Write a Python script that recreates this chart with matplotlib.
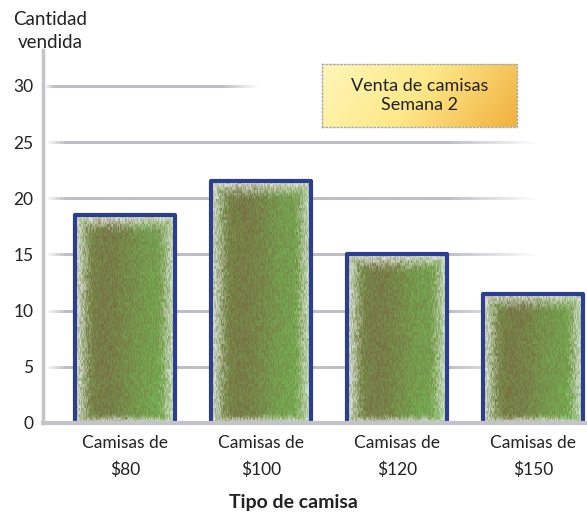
import numpy as np
import matplotlib.pyplot as plt
from matplotlib.collections import LineCollection
from matplotlib.colors import LinearSegmentedColormap

categorias = ['Camisas de\n$80', 'Camisas de\n$100', 'Camisas de\n$120', 'Camisas de\n$150']
ventas = [18.5, 21.5, 15, 11.5]
marcas_y = [0, 5, 10, 15, 20, 25, 30]
titulo = 'Venta de camisas\nSemana 2'
etiqueta_y = 'Cantidad\nvendida'
etiqueta_x = 'Tipo de camisa'

plt.rcParams['font.family'] = ['Lato', 'DejaVu Sans']


def ruido(nx, ny, k):
    """Ruido determinista con vetas verticales cortas."""
    ii = np.arange(nx)[None, :]
    jj = np.arange(ny)[:, None]
    h = np.sin(ii * 12.9898 + (jj // 3) * 78.233 + k * 3.17) * 43758.5453
    return h - np.floor(h)


def textura_barra(nx, ny, k):
    u = (np.arange(nx)[None, :] + 0.5) / nx
    v = (np.arange(ny)[:, None] + 0.5) / ny  # 0 abajo, 1 arriba
    cafe = np.array([0.47, 0.40, 0.26])
    verde = np.array([0.46, 0.69, 0.32])
    # banda cafe a la izquierda, mas verde a la derecha y abajo a la derecha
    w = 0.2 + 0.45 * np.exp(-((u - 0.3) / 0.3) ** 2) + 0.15 * v * (1 - u)
    w = w - 0.8 * np.clip((u - 0.45) * (0.4 - v), 0, 1)
    r = ruido(nx, ny, k)
    w = np.clip(w + 0.4 * (r - 0.5), 0, 1)
    img = cafe * w[..., None] + verde * (1 - w[..., None])
    # desvanecido blanco moteado en los bordes
    d = np.minimum(np.minimum(u * nx, (1 - u) * nx), (1 - v) * ny)
    d = np.minimum(d, v * ny * 2)
    borde = np.clip(d / 16 + 0.6 * (ruido(nx, ny, k + 7) - 0.5), 0, 1)
    blanco = (1 - borde)[..., None]
    img = img * (1 - 0.85 * blanco) + 0.93 * 0.85 * blanco
    return np.clip(img[::-1], 0, 1)


def linea_desvanecida(ax, y, x0, x1, n=120):
    xs = np.linspace(x0, x1, n + 1)
    segs = [[(xs[i], y), (xs[i + 1], y)] for i in range(n)]
    t = np.linspace(0, 1, n)
    a = np.clip(np.minimum(t / 0.04, (1 - t) / 0.18), 0, 1)
    gris = np.array([0.74, 0.74, 0.77])
    colores = [tuple(1 - (1 - gris) * ai) for ai in a]
    ax.add_collection(LineCollection(segs, colors=colores, linewidths=2,
                                     capstyle='projecting', zorder=1))


fig = plt.figure(figsize=(5.87, 5.18), dpi=100)
ax = fig.add_axes([0.0733, 0.1834, 0.9267, 0.72])
ax.set_xlim(-0.603, 3.397)
ax.set_ylim(0, 33.2)

# lineas de cuadricula
for y in marcas_y[1:]:
    fin = 1.0 if y == 30 else 3.05
    linea_desvanecida(ax, y, -0.59, fin)

ancho = 0.74
for i, val in enumerate(ventas):
    x0, x1 = i - ancho / 2, i + ancho / 2
    img = textura_barra(100, int(val * 11.2), i)
    ax.imshow(img, extent=(x0, x1, 0, val), aspect='auto', zorder=2,
              interpolation='nearest')
    ax.plot([x0, x0, x1, x1], [0, val, val, 0], color='#2b3e90', lw=3,
            solid_joinstyle='round', zorder=3)

ax.set_xticks(range(len(categorias)))
ax.set_xticklabels(categorias, fontsize=12.5, linespacing=1.75, color='#222222')
ax.set_yticks(marcas_y)
ax.set_yticklabels([str(m) for m in marcas_y], fontsize=12.5, color='#222222')
ax.tick_params(axis='x', length=0, pad=9)
ax.tick_params(axis='y', length=0, pad=7)

for lado in ['top', 'right']:
    ax.spines[lado].set_visible(False)
ax.spines['left'].set_color('#c4c4c8')
ax.spines['left'].set_linewidth(2.5)
ax.spines['bottom'].set_color('#c4c4c8')
ax.spines['bottom'].set_linewidth(3)
ax.spines['bottom'].set_zorder(4)

fig.text(0.085, 0.94, etiqueta_y, ha='center', va='center', fontsize=13.5,
         linespacing=1.45, color='#222222')
fig.text(0.5, 0.03, etiqueta_x, ha='center', va='center', fontsize=14,
         fontweight='bold', color='#222222')

# cuadro del titulo con degradado
axt = fig.add_axes([0.5486, 0.7548, 0.332, 0.1216])
gx = np.linspace(0, 1, 200)[None, :]
gy = np.linspace(0, 1, 60)[:, None]
mezcla = np.clip(0.85 * gx + 0.2 * gy, 0, 1)
grad = LinearSegmentedColormap.from_list('g', ['#fff6b8', '#fde98a', '#f2b545'])
axt.imshow(mezcla, cmap=grad, aspect='auto', extent=(0, 1, 0, 1))
axt.set_xlim(0, 1)
axt.set_ylim(0, 1)
axt.set_xticks([])
axt.set_yticks([])
for s in axt.spines.values():
    s.set_color('#aaaaaa')
    s.set_linestyle(':')
    s.set_linewidth(1)
axt.text(0.5, 0.5, titulo, ha='center', va='center', fontsize=13,
         linespacing=1.3, color='#222222')

fig.savefig('out.png', dpi=100)
